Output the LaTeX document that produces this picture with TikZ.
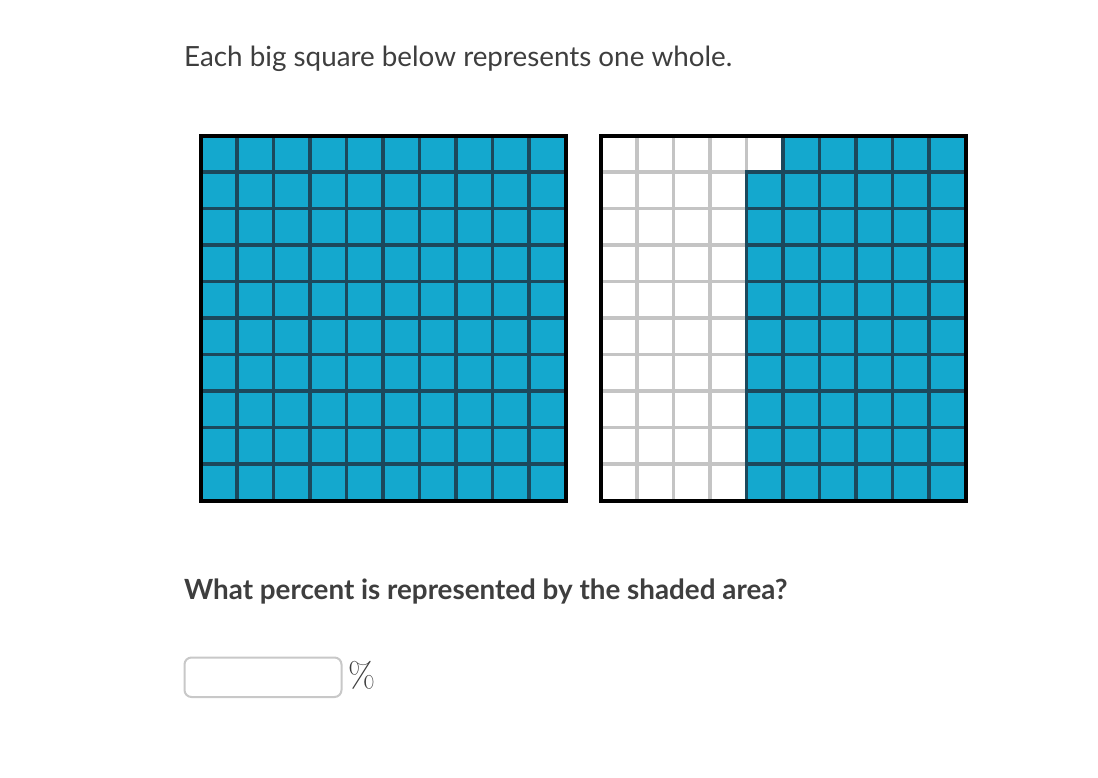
\documentclass[tikz,border=0pt]{standalone}
\usepackage{fontspec}
\setmainfont{Lato}
\newfontfamily\lmrfont{Latin Modern Roman}
\definecolor{cellblue}{RGB}{20,168,206}
\definecolor{celldark}{RGB}{28,72,92}
\definecolor{cellgrey}{RGB}{196,196,196}
\definecolor{txt}{RGB}{62,62,62}
\definecolor{boxgrey}{RGB}{200,200,200}
\tikzset{
  bluecell/.style={fill=cellblue,draw=celldark,line width=3.6pt},
  whitecell/.style={fill=white,draw=cellgrey,line width=3.6pt},
  outer/.style={draw=black,line width=4pt},
  label/.style={anchor=base west,inner sep=0pt,text=txt}
}
\begin{document}
\begin{tikzpicture}[x=1pt,y=-1pt]
\useasboundingbox[fill=white] (0,0) rectangle (1098,777);
\node[label,font=\fontsize{27.8}{32}\selectfont] (title) at (184,66) {Each big square below represents one whole.};
% left square
\foreach \i in {0,...,9}{
  \foreach \j in {0,...,9}{
    \draw[bluecell] ({200.5+36.5*\i},{135.5+36.5*\j}) rectangle ++(36.5,36.5);
  }
}
\draw[outer] (200.5,135.5) rectangle (565.5,500.5);
% right square: white cells
\foreach \i in {0,...,4}{
  \foreach \j in {0,...,9}{
    \draw[whitecell] ({600.5+36.5*\i},{135.5+36.5*\j}) rectangle ++(36.5,36.5);
  }
}
% blue column 4 (rows 1-9)
\foreach \j in {1,...,9}{
  \draw[bluecell] ({600.5+36.5*4},{135.5+36.5*\j}) rectangle ++(36.5,36.5);
}
% blue columns 5-9
\foreach \i in {5,...,9}{
  \foreach \j in {0,...,9}{
    \draw[bluecell] ({600.5+36.5*\i},{135.5+36.5*\j}) rectangle ++(36.5,36.5);
  }
}
\draw[outer] (600.5,135.5) rectangle (965.5,500.5);
\node[label,font=\bfseries\fontsize{27.8}{32}\selectfont] (question) at (184,599) {What percent is represented by the shaded area?};
\draw[boxgrey,line width=2pt,rounded corners=7pt] (184.5,657.5) rectangle (341.5,697);
\node[anchor=west,inner sep=0pt,text=txt,font=\lmrfont\fontsize{35}{38}\selectfont] (pct) at (348,675) {\%};
\end{tikzpicture}
\end{document}
